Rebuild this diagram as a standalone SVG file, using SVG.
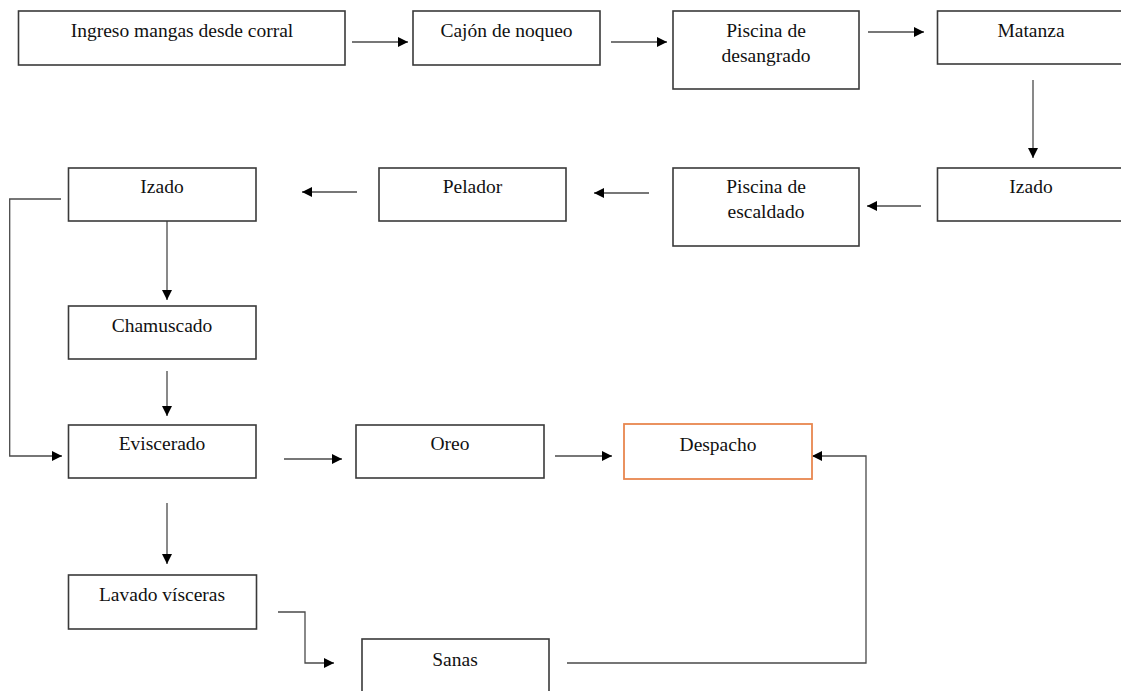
<svg xmlns="http://www.w3.org/2000/svg" width="1121" height="691" viewBox="0 0 1121 691">
<style>
.box{fill:#fff;stroke:#3a3a3a;stroke-width:1.6}
.hl{fill:#fff;stroke:#E8874F;stroke-width:1.8}
.lbl{font-family:"Liberation Serif","Times New Roman",serif;font-size:19.5px;fill:#111;text-anchor:middle}
.con{fill:none;stroke:#4a4a4a;stroke-width:1.3}
</style>
<defs>
<marker id="ah" markerUnits="userSpaceOnUse" markerWidth="10" markerHeight="10" viewBox="0 0 10 10" refX="10" refY="5" orient="auto">
<path d="M0,0 L10,5 L0,10 z" fill="#000"/>
</marker>
</defs>
<rect width="1121" height="691" fill="#fff"/>
<g id="connectors">
<path class="con" marker-end="url(#ah)" d="M352,42 H408"/>
<path class="con" marker-end="url(#ah)" d="M611,42 H667"/>
<path class="con" marker-end="url(#ah)" d="M868,32 H924"/>
<path class="con" marker-end="url(#ah)" d="M1033,80 V158"/>
<path class="con" marker-end="url(#ah)" d="M921,206 H867"/>
<path class="con" marker-end="url(#ah)" d="M649,193 H594"/>
<path class="con" marker-end="url(#ah)" d="M357,192 H302"/>
<path class="con" marker-end="url(#ah)" d="M61,199 H9.7 V456 H62"/>
<path class="con" marker-end="url(#ah)" d="M167,221 V300"/>
<path class="con" marker-end="url(#ah)" d="M167,371 V416"/>
<path class="con" marker-end="url(#ah)" d="M284,459 H342"/>
<path class="con" marker-end="url(#ah)" d="M555,456 H612"/>
<path class="con" marker-end="url(#ah)" d="M167,503 V564"/>
<path class="con" marker-end="url(#ah)" d="M278,612 H305 V663 H334"/>
<path class="con" marker-end="url(#ah)" d="M567,663 H866 V456 H812"/>
</g>
<g id="n1"><rect class="box" x="18.5" y="11" width="326.5" height="54"/><text class="lbl" x="182" y="37">Ingreso mangas desde corral</text></g>
<g id="n2"><rect class="box" x="413" y="11" width="187" height="54"/><text class="lbl" x="506.5" y="37">Cajón de noqueo</text></g>
<g id="n3"><rect class="box" x="673" y="11" width="186" height="78"/><text class="lbl" x="766" y="37">Piscina de</text><text class="lbl" x="766" y="62">desangrado</text></g>
<g id="n4"><rect class="box" x="937.5" y="11" width="188" height="53"/><text class="lbl" x="1031" y="37">Matanza</text></g>
<g id="n5"><rect class="box" x="937.5" y="168" width="188" height="53"/><text class="lbl" x="1031" y="193">Izado</text></g>
<g id="n6"><rect class="box" x="673" y="168" width="186" height="78"/><text class="lbl" x="766" y="193">Piscina de</text><text class="lbl" x="766" y="218">escaldado</text></g>
<g id="n7"><rect class="box" x="379" y="168" width="187" height="53"/><text class="lbl" x="472.5" y="193">Pelador</text></g>
<g id="n8"><rect class="box" x="68.5" y="168" width="187.5" height="53"/><text class="lbl" x="162" y="193">Izado</text></g>
<g id="n9"><rect class="box" x="68.5" y="306" width="187.5" height="53"/><text class="lbl" x="162" y="332">Chamuscado</text></g>
<g id="n10"><rect class="box" x="68.5" y="425" width="187.5" height="53"/><text class="lbl" x="162" y="450">Eviscerado</text></g>
<g id="n11"><rect class="box" x="356" y="425" width="188" height="53"/><text class="lbl" x="450" y="450">Oreo</text></g>
<g id="n12"><rect class="hl" x="624" y="424" width="188" height="55"/><text class="lbl" x="718" y="451">Despacho</text></g>
<g id="n13"><rect class="box" x="68.5" y="575" width="188" height="54"/><text class="lbl" x="162" y="601">Lavado vísceras</text></g>
<g id="n14"><rect class="box" x="362" y="639" width="187" height="60"/><text class="lbl" x="455" y="666">Sanas</text></g>
</svg>
